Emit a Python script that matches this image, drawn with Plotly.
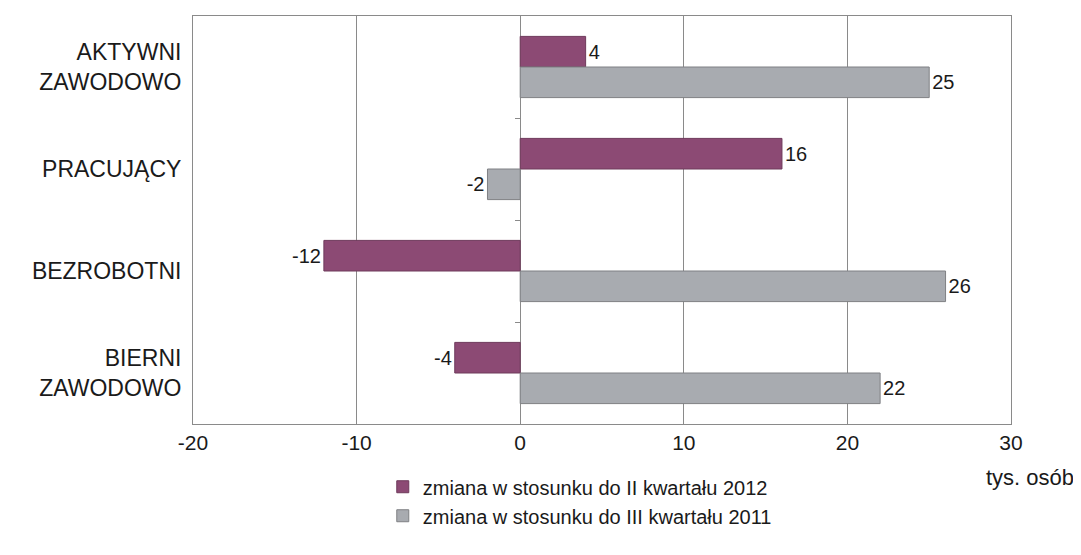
import plotly.graph_objects as go

categories = ["AKTYWNI<br>ZAWODOWO", "PRACUJĄCY", "BEZROBOTNI", "BIERNI<br>ZAWODOWO"]
series_names = ["zmiana w stosunku do II kwartału 2012", "zmiana w stosunku do III kwartału 2011"]
vs_q2_2012 = [4, 16, -12, -4]
vs_q3_2011 = [25, -2, 26, 22]
x_ticks = [-20, -10, 0, 10, 20, 30]
x_tick_text = ["-20", "-10", "0", "10", "20", "30"]
unit_label = "tys. osób"

FONT = "Liberation Sans, Arial, sans-serif"
PURPLE = "#8C4A74"
GRAY = "#A8ABB0"
TXT = "#1a1a1a"

fig = go.Figure()
fig.add_trace(go.Bar(
    y=categories, x=vs_q2_2012, orientation="h", name=series_names[0],
    marker=dict(color=PURPLE, line=dict(color="#6E3A5B", width=1)),
    text=[str(v) for v in vs_q2_2012], textposition="outside",
    textfont=dict(size=20, color=TXT, family=FONT), cliponaxis=False,
))
fig.add_trace(go.Bar(
    y=categories, x=vs_q3_2011, orientation="h", name=series_names[1],
    marker=dict(color=GRAY, line=dict(color="#7F8084", width=1)),
    text=[str(v) for v in vs_q3_2011], textposition="outside",
    textfont=dict(size=20, color=TXT, family=FONT), cliponaxis=False,
))

# invisible trace so the secondary (zero-line tick) axis is drawn
fig.add_trace(go.Scatter(x=[None], y=[None], yaxis="y2", showlegend=False, hoverinfo="skip"))

fig.update_layout(
    width=1081, height=555,
    margin=dict(l=185, r=78, t=8, b=139, autoexpand=False),
    paper_bgcolor="white", plot_bgcolor="white",
    barmode="group", bargap=0.4, bargroupgap=0.0,
    font=dict(family=FONT, color=TXT),
    showlegend=True,
    legend=dict(
        x=0.232, y=-0.106, xanchor="left", yanchor="top",
        orientation="v", font=dict(size=20, family=FONT, color=TXT),
        bgcolor="rgba(0,0,0,0)", tracegroupgap=0,
    ),
    xaxis=dict(
        range=[x_ticks[0], x_ticks[-1]], tickvals=x_ticks, ticktext=x_tick_text,
        showgrid=True, gridcolor="#8a8a8a", gridwidth=1,
        zeroline=True, zerolinecolor="#8a8a8a", zerolinewidth=1,
        showline=True, linecolor="#8a8a8a", linewidth=1, mirror=True,
        ticks="", automargin=False,
        tickfont=dict(size=21, family=FONT, color=TXT),
    ),
    yaxis=dict(
        autorange="reversed", type="category", automargin=False,
        showline=True, linecolor="#8a8a8a", linewidth=1, mirror=True,
        showgrid=False, ticks="", ticklabelstandoff=6,
        tickfont=dict(size=23, family=FONT, color=TXT),
    ),
    yaxis2=dict(
        overlaying="y", anchor="free", position=(0 - x_ticks[0]) / (x_ticks[-1] - x_ticks[0]),
        range=[4, 0], tickvals=[1, 2, 3], ticks="outside", ticklen=5,
        tickcolor="#8a8a8a", showticklabels=False, showgrid=False,
        zeroline=False, showline=False, automargin=False,
    ),
    annotations=[dict(
        text=unit_label, xref="paper", yref="paper", x=1.08, y=-0.13,
        xanchor="right", yanchor="middle", showarrow=False,
        font=dict(size=22, family=FONT, color=TXT),
    )],
)

fig.write_html("out.html")
